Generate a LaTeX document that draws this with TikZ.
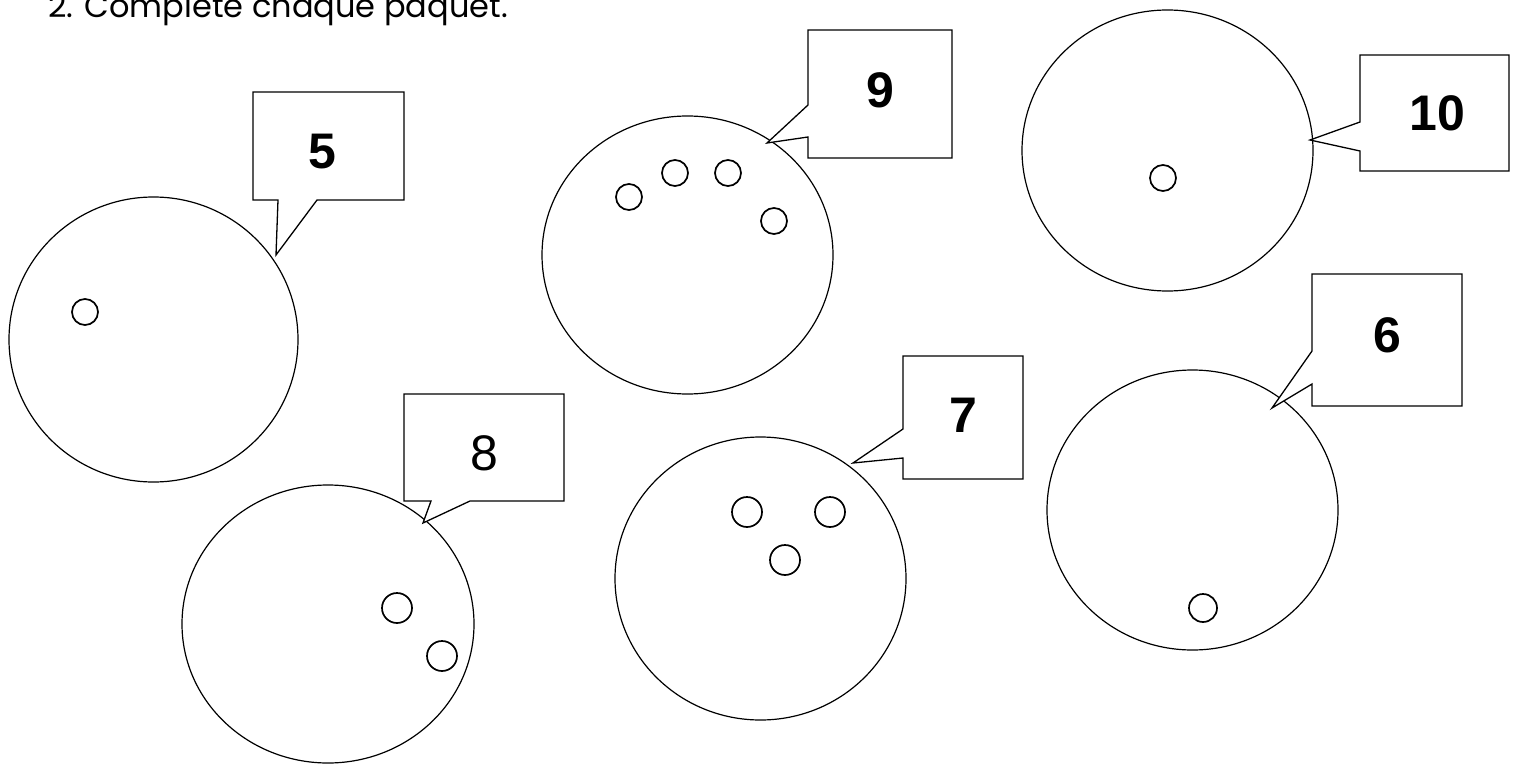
\documentclass[tikz,border=0pt]{standalone}
\usepackage{fontspec}
\setmainfont{Liberation Sans}
\newfontfamily\titlefont{Poppins}
\usetikzlibrary{shapes.geometric}
\tikzset{
  bag/.style={ellipse, draw, line width=1.2pt, inner sep=0pt},
  bubble/.style={draw, line width=1.3pt, line join=miter, fill=white},
  dot/.style={circle, draw, line width=1.7pt, inner sep=0pt, minimum size=#1},
  dot/.default=26pt,
  num/.style={font=\fontsize{50}{58}\selectfont\bfseries, inner sep=0pt},
  numr/.style={font=\fontsize{50}{58}\selectfont, inner sep=0pt}
}
\begin{document}
\begin{tikzpicture}[x=1pt,y=-1pt]
\useasboundingbox (0,0) rectangle (1520,765);
\clip (0,0) rectangle (1520,765);
\fill[white] (0,0) rectangle (1520,765);
% title
\node[anchor=base west, inner sep=0pt, font=\titlefont\fontsize{32}{38}\selectfont] (title) at (48,18) {2. Complete chaque paquet.};
% bags
\node[bag, minimum width=289pt, minimum height=285pt] (b5) at (153.5,339.5) {};
\node[bag, minimum width=291pt, minimum height=278pt] (b9) at (687.5,255) {};
\node[bag, minimum width=291pt, minimum height=281pt] (b10) at (1167.5,150.5) {};
\node[bag, minimum width=292pt, minimum height=278pt] (b8) at (328,624) {};
\node[bag, minimum width=291pt, minimum height=283pt] (b7) at (760.5,578.5) {};
\node[bag, minimum width=291pt, minimum height=280pt] (b6) at (1192.5,510) {};
% callouts
\draw[bubble] (253,92) -- (404,92) -- (404,200) -- (317,200) -- (276,255) -- (278,200) -- (253,200) -- cycle;
\draw[bubble] (808,30) -- (952,30) -- (952,158) -- (808,158) -- (808,137) -- (767,143) -- (808,105) -- cycle;
\draw[bubble] (1360,55) -- (1509,55) -- (1509,171) -- (1360,171) -- (1360,151) -- (1310,140) -- (1360,122) -- cycle;
\draw[bubble] (1312,274) -- (1462,274) -- (1462,406) -- (1312,406) -- (1312,384) -- (1272,408) -- (1312,351) -- cycle;
\draw[bubble] (903,356) -- (1023,356) -- (1023,479) -- (903,479) -- (903,458) -- (853,463) -- (903,429) -- cycle;
\draw[bubble] (404,394) -- (564,394) -- (564,501) -- (470,501) -- (423,523) -- (431,501) -- (404,501) -- cycle;
% numbers
\node[num] (n5) at (322,152) {5};
\node[num] (n9) at (880,90) {9};
\node[num] (n10) at (1437,113) {10};
\node[num] (n6) at (1387,335) {6};
\node[num] (n7) at (963,415) {7};
\node[numr] (n8) at (484,453) {8};
% dots
\node[dot] (d1) at (85,312) {};
\node[dot] (d2) at (629,197) {};
\node[dot] (d3) at (675,173) {};
\node[dot] (d4) at (728,173) {};
\node[dot] (d5) at (774,221) {};
\node[dot] (d6) at (1163,178) {};
\node[dot=30pt] (d7) at (397,608) {};
\node[dot=30pt] (d8) at (442,656) {};
\node[dot=30pt] (d9) at (747,512) {};
\node[dot=30pt] (d10) at (830,512) {};
\node[dot=30pt] (d11) at (785,560) {};
\node[dot=28pt] (d12) at (1203,608) {};
\end{tikzpicture}
\end{document}
